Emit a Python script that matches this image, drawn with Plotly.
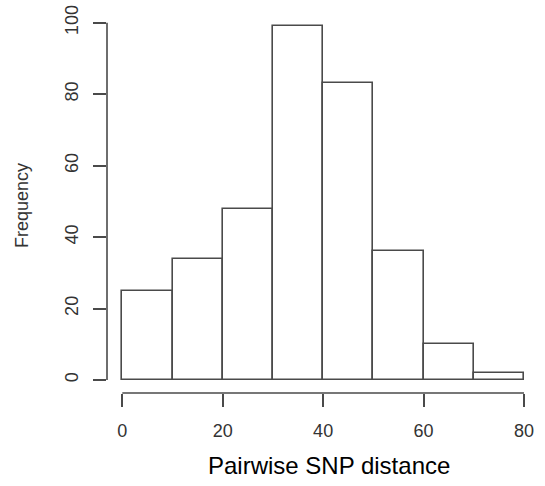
import plotly.graph_objects as go

bin_edges = [0, 10, 20, 30, 40, 50, 60, 70, 80]
frequencies = [25, 34, 48, 99, 83, 36, 10, 2]
x_ticks = [0, 20, 40, 60, 80]
y_ticks = [0, 20, 40, 60, 80, 100]
x_title = "Pairwise SNP distance"
y_title = "Frequency"

centers = [(a + b) / 2 for a, b in zip(bin_edges[:-1], bin_edges[1:])]
widths = [b - a for a, b in zip(bin_edges[:-1], bin_edges[1:])]

line_col = "#4a4a4a"
font = "Liberation Sans, Arial, sans-serif"

fig = go.Figure()
fig.add_trace(go.Bar(
    x=centers, y=frequencies, width=widths,
    marker=dict(color="white", line=dict(color=line_col, width=1.6)),
    showlegend=False, hoverinfo="x+y",
))

W, H = 545, 486
L, R, T, B = 107, 15, 15, 93

fig.update_layout(
    width=W, height=H,
    margin=dict(l=L, r=R, t=T, b=B, pad=0),
    plot_bgcolor="white", paper_bgcolor="white",
    bargap=0,
    xaxis=dict(range=[-3.05, 81.2], tickvals=x_ticks, ticks="outside", ticklen=13,
               tickwidth=1.6, tickcolor=line_col, showgrid=False, zeroline=False,
               showline=False, automargin=False,
               tickfont=dict(family=font, size=18, color="#333"),
               ticklabelstandoff=8),
    yaxis=dict(range=[-3.63, 102.15], tickvals=y_ticks, ticks="outside", ticklen=13,
               tickwidth=1.6, tickcolor=line_col, showgrid=False, zeroline=False,
               showline=False, tickangle=-90, automargin=False,
               tickfont=dict(family=font, size=18, color="#333"),
               ticklabelstandoff=8),
    shapes=[
        dict(type="line", xref="x domain", yref="y", x0=0, x1=0,
             y0=y_ticks[0], y1=y_ticks[-1], line=dict(color=line_col, width=1.6)),
        dict(type="line", xref="x", yref="y domain", x0=x_ticks[0], x1=x_ticks[-1],
             y0=0, y1=0, line=dict(color=line_col, width=1.6)),
    ],
    annotations=[
        dict(text=x_title, xref="paper", yref="paper",
             x=(329 - L) / (W - L - R), y=-(466 - (H - B)) / (H - T - B),
             xanchor="center", yanchor="middle", showarrow=False,
             font=dict(family=font, size=24, color="black")),
        dict(text=y_title, xref="paper", yref="paper",
             x=-(L - 22) / (W - L - R), y=((H - B) - 206) / (H - T - B),
             xanchor="center", yanchor="middle", showarrow=False, textangle=-90,
             font=dict(family=font, size=18, color="#333")),
    ],
)

fig.write_html("out.html", config={"displayModeBar": False},
               post_script="document.body.style.margin='0';")
